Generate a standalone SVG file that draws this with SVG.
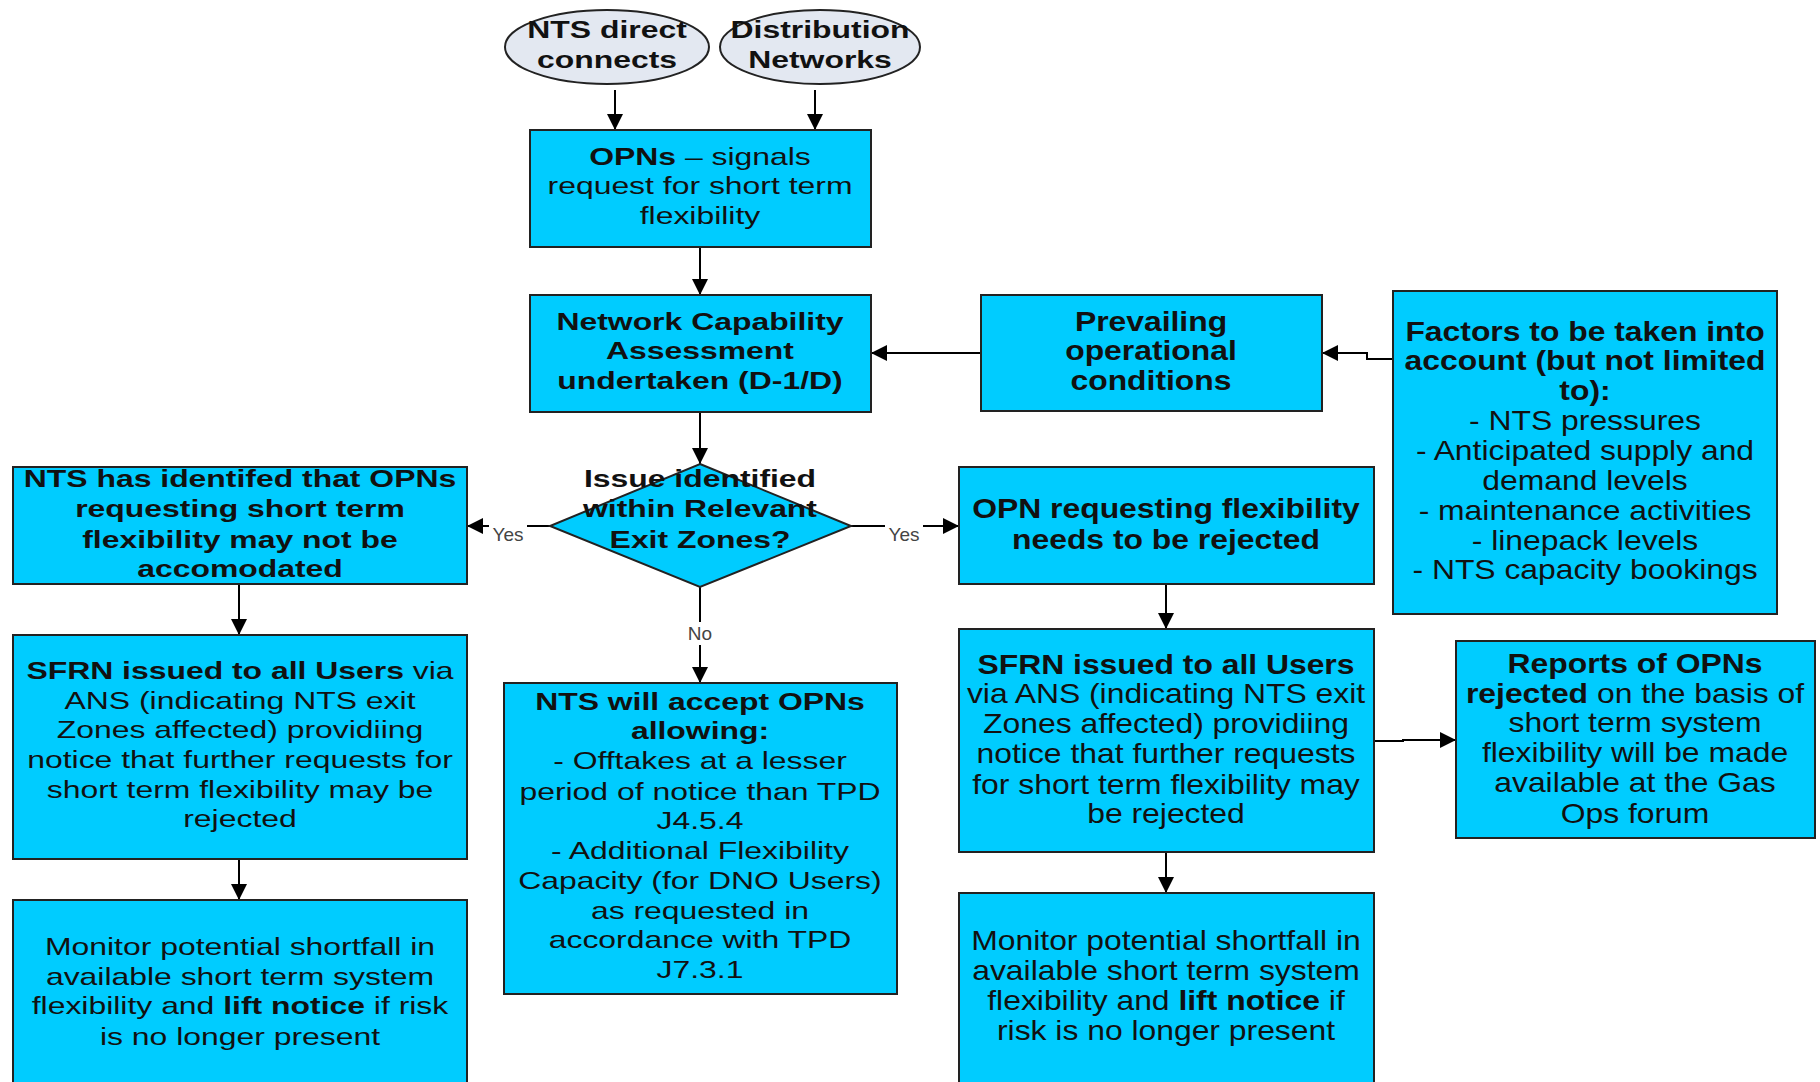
<svg xmlns="http://www.w3.org/2000/svg" width="1820" height="1082" viewBox="0 0 1820 1082">
<defs>
<marker id="ah" markerWidth="16" markerHeight="16" refX="16" refY="8" orient="auto" markerUnits="userSpaceOnUse"><path d="M0,0 L16,8 L0,16 z" fill="#000"/></marker>
<style>
.box{fill:#00CCFF;stroke:#222;stroke-width:2}
.ell{fill:#E3E8F1;stroke:#222;stroke-width:2}
.t{font-family:"Liberation Sans",Arial,sans-serif;fill:#111;text-anchor:middle}
.s24{font-size:24px}
.s27{font-size:27px}
.b{font-weight:bold}
.lbl{font-family:"Liberation Sans",Arial,sans-serif;font-size:19px;fill:#444;text-anchor:middle}
.c{fill:none;stroke:#000;stroke-width:2}
</style>
</defs>
<rect width="1820" height="1082" fill="#fff"/>

<g id="connectors">
<path class="c" d="M615,90 V130" marker-end="url(#ah)"/>
<path class="c" d="M815,90 V130" marker-end="url(#ah)"/>
<path class="c" d="M700,247 V295" marker-end="url(#ah)"/>
<path class="c" d="M981,353 H871" marker-end="url(#ah)"/>
<path class="c" d="M1393,359 H1367 V353 H1322" marker-end="url(#ah)"/>
<path class="c" d="M700,412 V464" marker-end="url(#ah)"/>
<path class="c" d="M552,526 H527"/>
<path class="c" d="M489,526 H467" marker-end="url(#ah)"/>
<text class="lbl" x="508" y="541">Yes</text>
<path class="c" d="M850,526 H885"/>
<path class="c" d="M923,526 H959" marker-end="url(#ah)"/>
<text class="lbl" x="904" y="541">Yes</text>
<path class="c" d="M700,587 V622"/>
<path class="c" d="M700,645 V683" marker-end="url(#ah)"/>
<text class="lbl" x="700" y="640">No</text>
<path class="c" d="M239,584 V635" marker-end="url(#ah)"/>
<path class="c" d="M239,859 V900" marker-end="url(#ah)"/>
<path class="c" d="M1166,584 V629" marker-end="url(#ah)"/>
<path class="c" d="M1166,852 V893" marker-end="url(#ah)"/>
<path class="c" d="M1373,741 H1403 V740 H1456" marker-end="url(#ah)"/>
</g>

<g id="nts-direct">
<ellipse class="ell" cx="607" cy="47" rx="102" ry="37"/>
<g class="t s24 b" transform="translate(607 0) scale(1.33 1)">
<text x="0" y="38">NTS direct</text>
<text x="0" y="68">connects</text>
</g>
</g>

<g id="distribution">
<ellipse class="ell" cx="820" cy="47" rx="100" ry="37"/>
<g class="t s24 b" transform="translate(820 0) scale(1.33 1)">
<text x="0" y="38">Distribution</text>
<text x="0" y="68">Networks</text>
</g>
</g>

<g id="opns">
<rect class="box" x="530" y="130" width="341" height="117"/>
<g class="t s24" transform="translate(700 0) scale(1.33 1)">
<text x="0" y="165"><tspan class="b">OPNs</tspan> – signals</text>
<text x="0" y="194">request for short term</text>
<text x="0" y="224">flexibility</text>
</g>
</g>

<g id="nca">
<rect class="box" x="530" y="295" width="341" height="117"/>
<g class="t s24 b" transform="translate(700 0) scale(1.33 1)">
<text x="0" y="330">Network Capability</text>
<text x="0" y="359">Assessment</text>
<text x="0" y="389">undertaken (D-1/D)</text>
</g>
</g>

<g id="prevailing">
<rect class="box" x="981" y="295" width="341" height="116"/>
<g class="t s27 b" transform="translate(1151 0) scale(1.18 1)">
<text x="0" y="331">Prevailing</text>
<text x="0" y="360">operational</text>
<text x="0" y="390">conditions</text>
</g>
</g>

<g id="factors">
<rect class="box" x="1393" y="291" width="384" height="323"/>
<g class="t s27" transform="translate(1585 0) scale(1.18 1)">
<text class="b" x="0" y="341">Factors to be taken into</text>
<text class="b" x="0" y="370">account (but not limited</text>
<text class="b" x="0" y="400">to):</text>
<text x="0" y="430">- NTS pressures</text>
<text x="0" y="460">- Anticipated supply and</text>
<text x="0" y="490">demand levels</text>
<text x="0" y="520">- maintenance activities</text>
<text x="0" y="550">- linepack levels</text>
<text x="0" y="579">- NTS capacity bookings</text>
</g>
</g>

<g id="decision">
<polygon class="box" points="700,464 851,526 700,587 550,526"/>
<g class="t s24 b" transform="translate(700 0) scale(1.33 1)">
<text x="0" y="487">Issue identified</text>
<text x="0" y="517">within Relevant</text>
<text x="0" y="548">Exit Zones?</text>
</g>
</g>

<g id="not-accommodated">
<rect class="box" x="13" y="467" width="454" height="117"/>
<g class="t s24 b" transform="translate(240 0) scale(1.33 1)">
<text x="0" y="487">NTS has identifed that OPNs</text>
<text x="0" y="517">requesting short term</text>
<text x="0" y="548">flexibility may not be</text>
<text x="0" y="577">accomodated</text>
</g>
</g>

<g id="sfrn-left">
<rect class="box" x="13" y="635" width="454" height="224"/>
<g class="t s24" transform="translate(240 0) scale(1.33 1)">
<text x="0" y="679"><tspan class="b">SFRN issued to all Users</tspan> via</text>
<text x="0" y="709">ANS (indicating NTS exit</text>
<text x="0" y="738">Zones affected) providiing</text>
<text x="0" y="768">notice that further requests for</text>
<text x="0" y="798">short term flexibility may be</text>
<text x="0" y="827">rejected</text>
</g>
</g>

<g id="monitor-left">
<rect class="box" x="13" y="900" width="454" height="200"/>
<g class="t s24" transform="translate(240 0) scale(1.33 1)">
<text x="0" y="955">Monitor potential shortfall in</text>
<text x="0" y="985">available short term system</text>
<text x="0" y="1014">flexibility and <tspan class="b">lift notice</tspan> if risk</text>
<text x="0" y="1045">is no longer present</text>
</g>
</g>

<g id="nts-accept">
<rect class="box" x="504" y="683" width="393" height="311"/>
<g class="t s24" transform="translate(700 0) scale(1.33 1)">
<text class="b" x="0" y="710">NTS will accept OPNs</text>
<text class="b" x="0" y="739">allowing:</text>
<text x="0" y="769">- Offtakes at a lesser</text>
<text x="0" y="800">period of notice than TPD</text>
<text x="0" y="829">J4.5.4</text>
<text x="0" y="859">- Additional Flexibility</text>
<text x="0" y="889">Capacity (for DNO Users)</text>
<text x="0" y="919">as requested in</text>
<text x="0" y="948">accordance with TPD</text>
<text x="0" y="978">J7.3.1</text>
</g>
</g>

<g id="opn-rejected">
<rect class="box" x="959" y="467" width="415" height="117"/>
<g class="t s27 b" transform="translate(1166 0) scale(1.18 1)">
<text x="0" y="518">OPN requesting flexibility</text>
<text x="0" y="549">needs to be rejected</text>
</g>
</g>

<g id="sfrn-right">
<rect class="box" x="959" y="629" width="415" height="223"/>
<g class="t s27" transform="translate(1166 0) scale(1.18 1)">
<text class="b" x="0" y="674">SFRN issued to all Users</text>
<text x="0" y="703">via ANS (indicating NTS exit</text>
<text x="0" y="733">Zones affected) providiing</text>
<text x="0" y="763">notice that further requests</text>
<text x="0" y="794">for short term flexibility may</text>
<text x="0" y="823">be rejected</text>
</g>
</g>

<g id="reports">
<rect class="box" x="1456" y="641" width="359" height="197"/>
<g class="t s27" transform="translate(1635 0) scale(1.18 1)">
<text class="b" x="0" y="673">Reports of OPNs</text>
<text x="0" y="703"><tspan class="b">rejected</tspan> on the basis of</text>
<text x="0" y="732">short term system</text>
<text x="0" y="762">flexibility will be made</text>
<text x="0" y="792">available at the Gas</text>
<text x="0" y="823">Ops forum</text>
</g>
</g>

<g id="monitor-right">
<rect class="box" x="959" y="893" width="415" height="200"/>
<g class="t s27" transform="translate(1166 0) scale(1.18 1)">
<text x="0" y="950">Monitor potential shortfall in</text>
<text x="0" y="980">available short term system</text>
<text x="0" y="1010">flexibility and <tspan class="b">lift notice</tspan> if</text>
<text x="0" y="1040">risk is no longer present</text>
</g>
</g>
</svg>
